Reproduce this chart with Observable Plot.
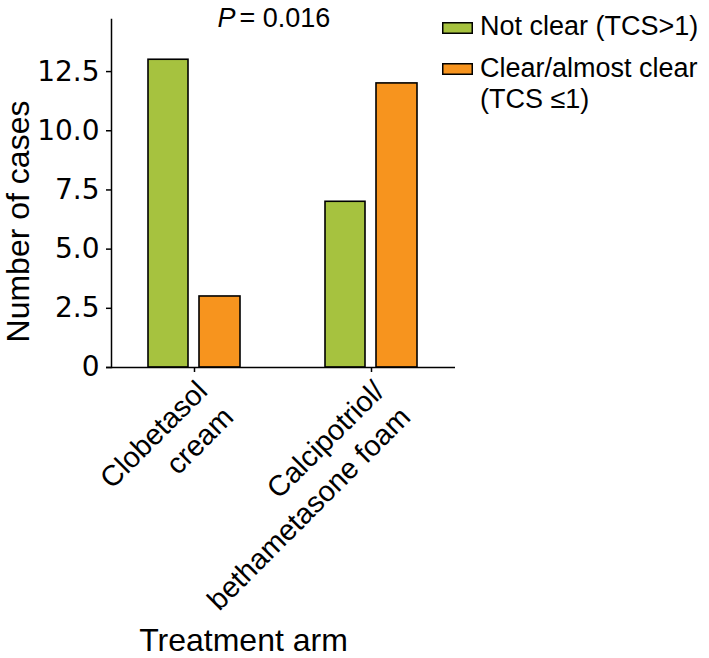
<!DOCTYPE html>
<html><head><meta charset="utf-8">
<script src="https://cdn.jsdelivr.net/npm/d3@7"></script>
<script src="https://cdn.jsdelivr.net/npm/@observablehq/plot@0.6"></script>
<style>
body{margin:0;background:#fff;}
#wrap{position:relative;width:709px;height:658px;}
</style></head><body><div id="wrap"></div>
<script>
const arms = ["Clobetasol cream", "Calcipotriol/bethametasone foam"];
const armLabels = ["Clobetasol\ncream", "Calcipotriol/\nbethametasone foam"];
const series = ["Not clear (TCS>1)", "Clear/almost clear (TCS \u22641)"];
const legendLines = [["Not clear (TCS>1)"], ["Clear/almost clear", "(TCS \u22641)"]];
const notClear = [13, 7];
const clearCases = [3, 12];
const yTicks = [0, 2.5, 5, 7.5, 10, 12.5];
const colors = ["#A6C23F", "#F7941E"];
const pLabel = ["P", "= 0.016"];
const yLabel = "Number of cases";
const xLabel = "Treatment arm";

const rowsNot = arms.map((a, i) => ({arm: a, series: series[0], value: notClear[i]}));
const rowsClear = arms.map((a, i) => ({arm: a, series: series[1], value: clearCases[i]}));
const font = "Liberation Sans, Arial, Helvetica, sans-serif";

const plot = Plot.plot({
  width: 709, height: 658,
  marginLeft: 111, marginRight: 254, marginTop: 19, marginBottom: 291,
  style: {fontFamily: font, background: "white", color: "black", overflow: "visible"},
  x: {domain: arms, paddingInner: 0.478, paddingOuter: 0.2055, axis: null},
  y: {domain: [0, 14.7], axis: null},
  marks: [
    Plot.barY(rowsNot, {x: "arm", y: "value", fill: colors[0], stroke: "black", strokeWidth: 1.6, insetLeft: 0, insetRight: 52}),
    Plot.barY(rowsClear, {x: "arm", y: "value", fill: colors[1], stroke: "black", strokeWidth: 1.6, insetLeft: 51, insetRight: 0}),
    Plot.ruleY([0], {stroke: "black", strokeWidth: 1.5, insetLeft: -5}),
    Plot.frame({anchor: "left", stroke: "black", strokeWidth: 1.5}),
    Plot.axisY({ticks: yTicks, tickSize: 5, tickPadding: 7, strokeWidth: 1.5, fontSize: 28, label: null,
      fontFamily: "DejaVu Sans, sans-serif",
      tickFormat: d => d === 0 ? "0" : d.toFixed(1)}),
    Plot.axisX({tickSize: 5, strokeWidth: 1.5, text: null, label: null}),
    Plot.text(arms, {x: d => d, text: d => armLabels[arms.indexOf(d)], frameAnchor: "bottom",
      rotate: -45, textAnchor: "end", lineAnchor: "top", fontSize: 29, lineHeight: 1.27, dx: -4, dy: 7}),
    Plot.text([xLabel], {frameAnchor: "bottom", dx: -40, dy: 273, fontSize: 32, lineAnchor: "middle", textAnchor: "middle"}),
    Plot.text([yLabel], {frameAnchor: "left", rotate: -90, dx: -93, dy: 28, fontSize: 32, lineAnchor: "middle", textAnchor: "middle"}),
    Plot.text([pLabel[0]], {frameAnchor: "top-left", dx: 124, dy: -1, fontSize: 27, fontStyle: "italic", textAnchor: "end", lineAnchor: "middle"}),
    Plot.text([pLabel[1]], {frameAnchor: "top-left", dx: 128, dy: -1, fontSize: 27, textAnchor: "start", lineAnchor: "middle"})
  ]
});
document.getElementById("wrap").appendChild(plot);

// legend drawn into the plot svg
const svg = d3.select(plot);
const lg = svg.append("g").attr("font-family", font).attr("font-size", 27).attr("fill", "black").attr("text-anchor", "start");
const swatchTop = [22, 63];
const baselines = [[35], [77, 108]];
legendLines.forEach((lines, i) => {
  lg.append("rect").attr("x", 442.75).attr("y", swatchTop[i] + 0.75).attr("width", 29.5).attr("height", 10.5)
    .attr("fill", colors[i]).attr("stroke", "black").attr("stroke-width", 1.5);
  lines.forEach((t, j) => {
    lg.append("text").attr("x", 480).attr("y", baselines[i][j]).attr("text-anchor", "start").text(t);
  });
});
</script></body></html>
